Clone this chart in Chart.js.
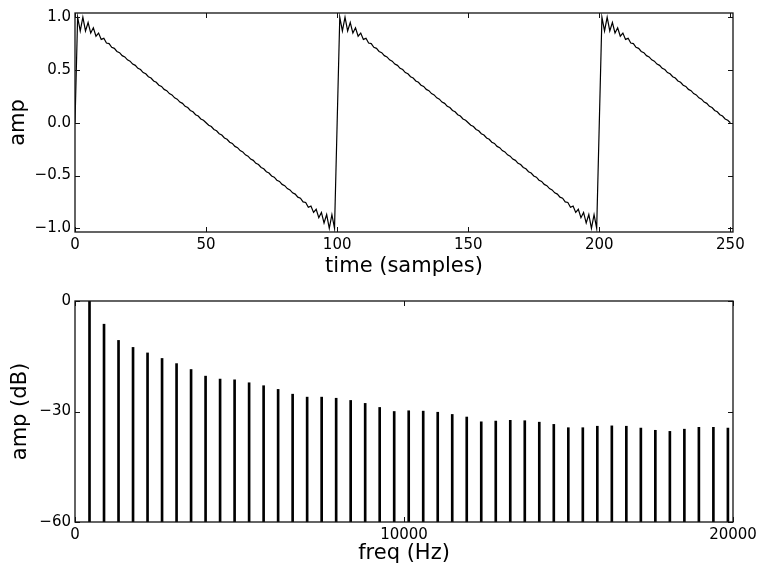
<!DOCTYPE html>
<html>
<head>
<meta charset="utf-8">
<script src="https://cdn.jsdelivr.net/npm/chart.js@4/dist/chart.umd.min.js"></script>
<style>
  html, body { margin: 0; padding: 0; background: #fff; }
  #wrap { position: relative; width: 762px; height: 566px; }
  #waveChart { position: absolute; left: 0; top: 0; }
  #specChart { position: absolute; left: 0; top: 280px; }
</style>
</head>
<body>
<div id="wrap">
  <canvas id="waveChart" width="762" height="280"></canvas>
  <canvas id="specChart" width="762" height="286"></canvas>
</div>
<script>
// sawtooth samples, t = 0 .. 250
const waveSamples = [
  0, 1.00, 0.87, 1.00, 0.87, 0.95, 0.85, 0.90, 0.82, 0.85, 0.79, 0.80, 0.755, 0.75, 0.715, 0.705,
  0.676, 0.664, 0.636, 0.624, 0.596, 0.584, 0.556, 0.544, 0.516, 0.504, 0.476, 0.464, 0.436, 0.424, 0.396, 0.384, 0.356, 0.344, 0.316, 0.304, 0.276, 0.264, 0.236, 0.224, 0.196, 0.184, 0.156, 0.144, 0.116, 0.104, 0.076, 0.064, 0.036, 0.024,
  0.000, -0.024, -0.036, -0.064, -0.076, -0.104, -0.116, -0.144, -0.156, -0.184, -0.196, -0.224, -0.236, -0.264, -0.276, -0.304, -0.316, -0.344, -0.356, -0.384, -0.396, -0.424, -0.436, -0.464, -0.476, -0.504, -0.516, -0.544, -0.556, -0.584, -0.596, -0.624, -0.636, -0.664, -0.676,
  -0.705, -0.715, -0.75, -0.755, -0.80, -0.79, -0.85, -0.82, -0.90, -0.85, -0.95, -0.87, -1.00, -0.87, -1.00,
  0, 1.00, 0.87, 1.00, 0.87, 0.95, 0.85, 0.90, 0.82, 0.85, 0.79, 0.80, 0.755, 0.75, 0.715, 0.705,
  0.676, 0.664, 0.636, 0.624, 0.596, 0.584, 0.556, 0.544, 0.516, 0.504, 0.476, 0.464, 0.436, 0.424, 0.396, 0.384, 0.356, 0.344, 0.316, 0.304, 0.276, 0.264, 0.236, 0.224, 0.196, 0.184, 0.156, 0.144, 0.116, 0.104, 0.076, 0.064, 0.036, 0.024,
  0.000, -0.024, -0.036, -0.064, -0.076, -0.104, -0.116, -0.144, -0.156, -0.184, -0.196, -0.224, -0.236, -0.264, -0.276, -0.304, -0.316, -0.344, -0.356, -0.384, -0.396, -0.424, -0.436, -0.464, -0.476, -0.504, -0.516, -0.544, -0.556, -0.584, -0.596, -0.624, -0.636, -0.664, -0.676,
  -0.705, -0.715, -0.75, -0.755, -0.80, -0.79, -0.85, -0.82, -0.90, -0.85, -0.95, -0.87, -1.00, -0.87, -1.00,
  0, 1.00, 0.87, 1.00, 0.87, 0.95, 0.85, 0.90, 0.82, 0.85, 0.79, 0.80, 0.755, 0.75, 0.715, 0.705,
  0.676, 0.664, 0.636, 0.624, 0.596, 0.584, 0.556, 0.544, 0.516, 0.504, 0.476, 0.464, 0.436, 0.424, 0.396, 0.384, 0.356, 0.344, 0.316, 0.304, 0.276, 0.264, 0.236, 0.224, 0.196, 0.184, 0.156, 0.144, 0.116, 0.104, 0.076, 0.064, 0.036, 0.024,
  0.000
];
const waveXTicks = [0, 50, 100, 150, 200, 250];
const waveYTicks = [-1, -0.5, 0, 0.5, 1];

// harmonic spectrum
const harmonicHz = [441, 882, 1323, 1764, 2205, 2646, 3087, 3528, 3969, 4410, 4851, 5292, 5733, 6174, 6615,
  7056, 7497, 7938, 8379, 8820, 9261, 9702, 10143, 10584, 11025, 11466, 11907, 12348, 12789, 13230,
  13671, 14112, 14553, 14994, 15435, 15876, 16317, 16758, 17199, 17640, 18081, 18522, 18963, 19404, 19845];
const harmonicDb = [0, -6.3, -10.7, -12.6, -14.1, -15.6, -17.0, -18.6, -20.4, -21.2, -21.4, -22.2, -23.0, -24.0, -25.3,
  -26.1, -26.1, -26.4, -27.0, -27.8, -28.9, -30.0, -29.8, -29.9, -30.2, -30.8, -31.5, -32.8, -32.6, -32.4,
  -32.5, -32.9, -33.5, -34.4, -34.4, -34.0, -33.9, -34.0, -34.5, -35.1, -35.4, -34.8, -34.3, -34.3, -34.5];
const specXTicks = [0, 10000, 20000];
const specYTicks = [-60, -30, 0];

const FONT = 'DejaVu Sans';

function minus(txt) {
  return String(txt).replace('-', '\u2212');
}

// box around the plot plus matplotlib style inward ticks on all four sides
const frameAndTicks = {
  id: 'frameAndTicks',
  afterDatasetsDraw(chart) {
    const { ctx, chartArea: a, scales } = chart;
    const len = 5;
    ctx.save();
    ctx.strokeStyle = '#111';
    ctx.lineWidth = 1;
    ctx.beginPath();
    scales.x.ticks.forEach(t => {
      const px = Math.round(scales.x.getPixelForValue(t.value)) + 0.5;
      ctx.moveTo(px, a.bottom); ctx.lineTo(px, a.bottom - len);
      ctx.moveTo(px, a.top); ctx.lineTo(px, a.top + len);
    });
    scales.y.ticks.forEach(t => {
      const py = Math.round(scales.y.getPixelForValue(t.value)) + 0.5;
      ctx.moveTo(a.left, py); ctx.lineTo(a.left + len, py);
      ctx.moveTo(a.right, py); ctx.lineTo(a.right - len, py);
    });
    ctx.stroke();
    ctx.lineWidth = 1.3;
    ctx.strokeRect(a.left, a.top, a.right - a.left, a.bottom - a.top);
    ctx.restore();
  }
};

function axis(min, max, tickList, fmt, title, titlePad, extra) {
  return Object.assign({
    type: 'linear',
    min: min,
    max: max,
    grid: { display: false, drawTicks: false },
    border: { display: false },
    afterBuildTicks: s => { s.ticks = tickList.map(v => ({ value: v })); },
    ticks: {
      color: '#000',
      font: { family: FONT, size: 15 },
      maxRotation: 0,
      autoSkip: false,
      padding: 4,
      callback: fmt
    },
    title: {
      display: true,
      text: title,
      color: '#000',
      font: { family: FONT, size: 21 },
      padding: { top: titlePad, bottom: 0 }
    }
  }, extra);
}

document.addEventListener('DOMContentLoaded', function () {
  Chart.defaults.font.family = FONT;
  Chart.defaults.color = '#000';

  // Time domain
  const waveCtx = document.getElementById('waveChart').getContext('2d');
  new Chart(waveCtx, {
    type: 'line',
    data: {
      datasets: [{
        data: waveSamples.map((v, i) => ({ x: i, y: v })),
        borderColor: '#000',
        borderWidth: 1.2,
        pointRadius: 0,
        tension: 0,
        fill: false
      }]
    },
    options: {
      responsive: false,
      animation: false,
      layout: { padding: { left: 0, right: 29, top: 11, bottom: 1 } },
      plugins: { legend: { display: false }, tooltip: { enabled: false } },
      scales: {
        x: axis(0, 251, waveXTicks, v => String(v), 'time (samples)', 0, {
          afterFit: s => { s.height = 47; }
        }),
        y: axis(-1.035, 1.04, waveYTicks, v => minus(Number(v).toFixed(1)), 'amp', 6, {
          afterFit: s => { s.width = 75; }
        })
      }
    },
    plugins: [frameAndTicks]
  });

  // Spectrum
  const specCtx = document.getElementById('specChart').getContext('2d');
  new Chart(specCtx, {
    type: 'bar',
    data: {
      datasets: [{
        data: harmonicHz.map((f, i) => ({ x: f, y: [-60, harmonicDb[i]] })),
        backgroundColor: '#000',
        borderWidth: 0,
        barThickness: 2
      }]
    },
    options: {
      responsive: false,
      animation: false,
      layout: { padding: { left: 0, right: 29, top: 21, bottom: 0 } },
      plugins: { legend: { display: false }, tooltip: { enabled: false } },
      scales: {
        x: axis(0, 20000, specXTicks, v => String(v), 'freq (Hz)', 0, {
          offset: false,
          afterFit: s => { s.height = 44; }
        }),
        y: axis(-60, 0, specYTicks, v => minus(v), 'amp (dB)', 8, {
          afterFit: s => { s.width = 75; }
        })
      }
    },
    plugins: [frameAndTicks]
  });
});
</script>
</body>
</html>
